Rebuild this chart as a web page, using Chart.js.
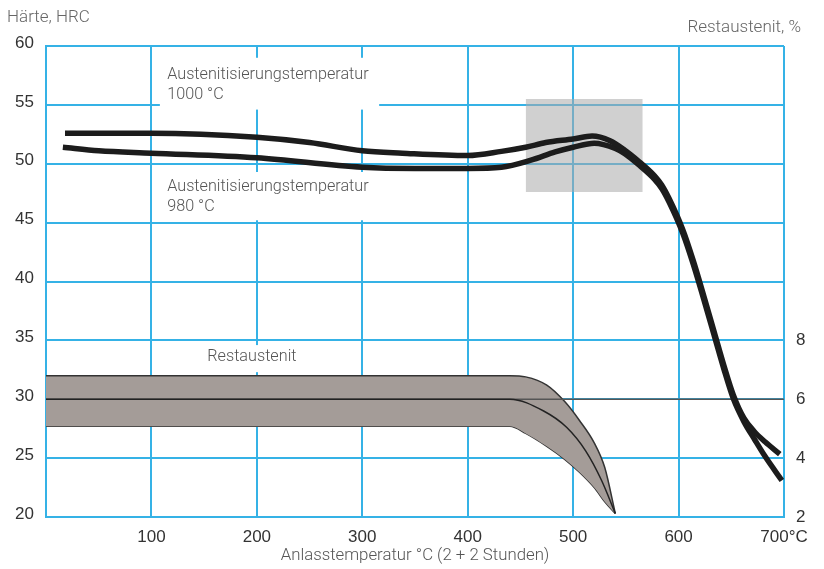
<!DOCTYPE html>
<html>
<head>
<meta charset="utf-8">
<script src="https://cdn.jsdelivr.net/npm/chart.js@4"></script>
<style>
  html, body { margin: 0; padding: 0; background: #fff; }
  #wrap { width: 824px; height: 569px; position: relative; }
</style>
</head>
<body>
<div id="wrap"><canvas id="chart"></canvas></div>
<script>
// Härte nach Anlassen, Austenitisierung 1000 °C
const temps1000 = [18, 100, 200, 250, 300, 338, 400, 432, 455, 474, 500, 518, 535, 549, 563, 577, 584, 591, 604, 614, 624, 634, 643, 652, 662, 672, 682, 696];
const hrc1000   = [52.6, 52.6, 52.25, 51.8, 51.1, 50.9, 50.7, 51.05, 51.4, 51.8, 52.1, 52.35, 51.95, 51.15, 50.15, 49.0, 48.2, 47.05, 44.4, 41.75, 38.75, 35.65, 32.86, 30.34, 28.39, 27.24, 26.39, 25.34];

// Härte nach Anlassen, Austenitisierung 980 °C
const temps980 = [16, 50, 100, 200, 300, 350, 400, 432, 460, 483, 500, 520, 540, 549, 563, 577, 584, 591, 604, 614, 624, 634, 643, 652, 662, 672, 682, 698];
const hrc980   = [51.4, 51.1, 50.9, 50.5, 49.7, 49.6, 49.6, 49.7, 50.3, 51.0, 51.4, 51.75, 51.3, 50.85, 49.85, 48.7, 47.9, 46.75, 44.1, 41.45, 38.45, 35.35, 32.56, 30.04, 28.1, 26.6, 25.15, 23.1];

// Restaustenit-Band (in %)
const bandTemps = [0, 440, 455, 475, 492, 506, 520, 530, 540];
const bandUpper = [6.8, 6.8, 6.76, 6.48, 5.92, 5.28, 4.52, 3.68, 2.12];
const bandLower = [5.08, 5.08, 4.84, 4.4, 3.96, 3.52, 3.0, 2.52, 2.12];
const midTemps  = [0, 440, 472, 494, 512, 527, 540];
const midValues = [6.0, 6.0, 5.6, 5.04, 4.24, 3.24, 2.12];

// Bezugslinie 6 %
const refTemps = [0, 700];
const refValues = [6, 6];

// grau hinterlegter Bereich (Sekundärhärte)
const zoneTemps = [455, 566];
const zoneTop = [55.5, 55.5];
const zoneBottom = [47.6, 47.6];

const xTicks = [100, 200, 300, 400, 500, 600, 700];

const pts = (xs, ys) => xs.map((x, i) => ({ x: x, y: ys[i] }));

const BLUE = '#35b2e6';
const INK = '#1c1c1c';
const LIGHT = '300 16.2px Roboto, "Liberation Sans", sans-serif';

// Beschriftungen im Diagramm (Position in Achsenwerten)
const notes = [
  { lines: ['Austenitisierungstemperatur', '1000 °C'], x: 115, y: 57.5, box: [108, 316, 59.0, 54.6] },
  { lines: ['Austenitisierungstemperatur', '980 °C'], x: 115, y: 48.0, box: [108, 316, 49.3, 45.2] },
  { lines: ['Restaustenit'], x: 153, y: 33.6, box: [146, 298, 34.6, 32.3] }
];

const notesPlugin = {
  id: 'notes',
  beforeDatasetsDraw(chart) {
    const { ctx, scales } = chart;
    const xs = scales.x, ys = scales.y;
    ctx.save();
    notes.forEach(n => {
      const [x0, x1, y0, y1] = n.box;
      ctx.fillStyle = '#fff';
      ctx.fillRect(xs.getPixelForValue(x0), ys.getPixelForValue(y0),
        xs.getPixelForValue(x1) - xs.getPixelForValue(x0),
        ys.getPixelForValue(y1) - ys.getPixelForValue(y0));
      ctx.fillStyle = '#555';
      ctx.font = LIGHT;
      ctx.textBaseline = 'middle';
      ctx.textAlign = 'left';
      n.lines.forEach((t, i) => {
        ctx.fillText(t, xs.getPixelForValue(n.x), ys.getPixelForValue(n.y) + i * 20);
      });
    });
    ctx.restore();
  },
  afterDraw(chart) {
    const { ctx } = chart;
    ctx.save();
    ctx.fillStyle = '#666';
    ctx.font = '300 17px Roboto, "Liberation Sans", sans-serif';
    ctx.textBaseline = 'middle';
    ctx.textAlign = 'left';
    ctx.fillText('Härte, HRC', 7, 18);
    ctx.textAlign = 'right';
    ctx.fillText('Restaustenit, %', 801, 28);
    ctx.restore();
  }
};

const tickFont = { family: '"Liberation Sans", Arial, sans-serif', size: 17 };

new Chart(document.getElementById('chart'), {
  type: 'line',
  data: {
    datasets: [
      { data: pts(temps1000, hrc1000), yAxisID: 'y', borderColor: INK, borderWidth: 5.5, cubicInterpolationMode: 'monotone', pointRadius: 0, fill: false },
      { data: pts(temps980, hrc980), yAxisID: 'y', borderColor: INK, borderWidth: 5.5, cubicInterpolationMode: 'monotone', pointRadius: 0, fill: false },
      { data: pts(midTemps, midValues), yAxisID: 'y1', borderColor: '#222', borderWidth: 1.5, cubicInterpolationMode: 'monotone', pointRadius: 0, fill: false },
      { data: pts(refTemps, refValues), yAxisID: 'y1', borderColor: '#555', borderWidth: 1.5, pointRadius: 0, fill: false },
      { data: pts(bandTemps, bandUpper), yAxisID: 'y1', borderColor: '#333', borderWidth: 1.5, backgroundColor: '#a49c98', cubicInterpolationMode: 'monotone', pointRadius: 0, fill: '+1' },
      { data: pts(bandTemps, bandLower), yAxisID: 'y1', borderColor: '#333', borderWidth: 1.5, cubicInterpolationMode: 'monotone', pointRadius: 0, fill: false },
      { data: pts(zoneTemps, zoneTop), yAxisID: 'y', borderWidth: 0, borderColor: 'rgba(0,0,0,0)', backgroundColor: 'rgba(170,170,170,0.55)', pointRadius: 0, fill: '+1' },
      { data: pts(zoneTemps, zoneBottom), yAxisID: 'y', borderWidth: 0, borderColor: 'rgba(0,0,0,0)', pointRadius: 0, fill: false }
    ]
  },
  options: {
    responsive: true,
    maintainAspectRatio: false,
    animation: false,
    layout: { padding: { top: 46, left: 0, right: 0, bottom: 0 } },
    plugins: {
      legend: { display: false },
      tooltip: { enabled: false }
    },
    scales: {
      x: {
        type: 'linear',
        min: 0,
        max: 700,
        afterFit: s => { s.height = 52; },
        afterBuildTicks: s => { s.ticks = [{ value: 0 }].concat(xTicks.map(v => ({ value: v }))); },
        grid: { color: BLUE, lineWidth: 2, drawTicks: false },
        border: { color: BLUE, width: 2 },
        ticks: {
          padding: 10,
          color: '#333',
          font: tickFont,
          maxRotation: 0,
          callback: v => v === 0 ? '' : (v === 700 ? '700°C' : String(v))
        },
        title: {
          display: true,
          text: 'Anlasstemperatur °C (2 + 2 Stunden)',
          color: '#555',
          font: { family: 'Roboto, "Liberation Sans", sans-serif', size: 16.8, weight: 300 },
          padding: { top: 0, bottom: 3 }
        }
      },
      y: {
        position: 'left',
        min: 20,
        max: 60,
        afterFit: s => { s.width = 46; },
        grid: { color: BLUE, lineWidth: 2, drawTicks: false },
        border: { color: BLUE, width: 2 },
        ticks: { stepSize: 5, padding: 12, labelOffset: -3, color: '#333', font: tickFont }
      },
      y1: {
        position: 'right',
        min: 2,
        max: 18,
        afterFit: s => { s.width = 40; },
        grid: { display: false, drawTicks: false },
        border: { display: false },
        ticks: {
          stepSize: 2,
          padding: 12,
          color: '#333',
          font: tickFont,
          callback: v => v <= 8 ? String(v) : ''
        }
      }
    }
  },
  plugins: [notesPlugin]
});
</script>
</body>
</html>
